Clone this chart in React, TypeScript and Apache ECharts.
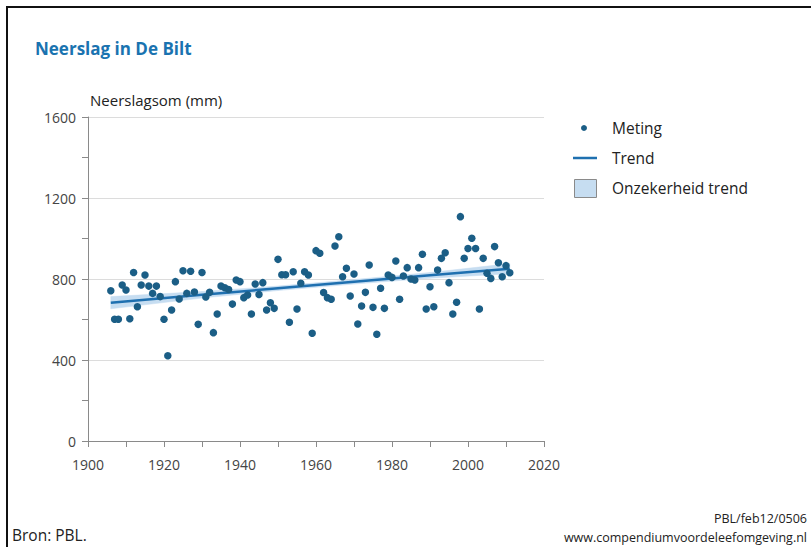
import React, { useEffect, useRef } from "react";
import * as echarts from "echarts";

const years: number[] = [];
for (let y = 1906; y <= 2011; y++) years.push(y);

const rainfall = [
  742, 601, 601, 770, 746, 604, 832, 663, 770, 820,
  765, 729, 765, 713, 601, 421, 647, 787, 701, 841,
  729, 838, 736, 576, 832, 711, 734, 535, 627, 765,
  757, 748, 676, 795, 787, 708, 721, 627, 775, 724,
  782, 647, 683, 655, 897, 821, 821, 586, 836, 652,
  779, 836, 820, 532, 940, 927, 733, 708, 700, 963,
  1009, 811, 853, 716, 825, 578, 667, 734, 869, 660,
  527, 754, 655, 820, 808, 889, 700, 815, 856, 800,
  795, 856, 922, 652, 762, 663, 844, 902, 930, 782,
  627, 685, 1108, 902, 951, 1001, 951, 652, 902, 828,
  803, 960, 880, 811, 866, 831,
];

const trendYears = [1906, 1930, 1950, 1970, 1990, 2011];
const trendValues = [683, 722, 754, 786, 818, 851];
const bandLower = [653, 706, 743, 775, 804, 826];
const bandUpper = [713, 738, 765, 797, 832, 876];

const xTicks = { min: 1900, max: 2020, step: 20 };
const yTicks = { min: 0, max: 1600, step: 400 };

const DOT = "#1b5e86";
const LINE = "#1f70b0";
const BAND = "#c6ddf1";
const FONT = "Open Sans";

export default function App() {
  const ref = useRef<HTMLDivElement>(null);
  useEffect(() => {
    if (!ref.current) return;
    const chart = echarts.init(ref.current, null, { renderer: "svg" });
    const axisLabel = {
      color: "#444",
      fontFamily: FONT,
      fontSize: 14,
      formatter: (v: number) => String(v),
    };
    chart.setOption({
      animation: false,
      backgroundColor: "#fff",
      grid: { left: 88, right: 267, top: 117, bottom: 106, containLabel: false },
      xAxis: {
        type: "value",
        min: xTicks.min,
        max: xTicks.max,
        interval: xTicks.step,
        axisLine: { show: true, lineStyle: { color: "#8a8a8a", width: 1 } },
        axisTick: { show: true, length: 6, lineStyle: { color: "#8a8a8a" } },
        minorTick: { show: true, splitNumber: 2, length: 6, lineStyle: { color: "#8a8a8a" } },
        axisLabel: { ...axisLabel, margin: 16 },
        splitLine: { show: false },
      },
      yAxis: {
        type: "value",
        min: yTicks.min,
        max: yTicks.max,
        interval: yTicks.step,
        axisLine: { show: true, lineStyle: { color: "#8a8a8a", width: 1 } },
        axisTick: { show: true, length: 6, lineStyle: { color: "#8a8a8a" } },
        minorTick: { show: true, splitNumber: 2, length: 6, lineStyle: { color: "#8a8a8a" } },
        axisLabel: { ...axisLabel, margin: 12 },
        splitLine: { show: true, lineStyle: { color: "#dcdcdc", width: 1 } },
      },
      series: [
        {
          type: "custom",
          data: trendYears.map((y, i) => [y, bandLower[i], bandUpper[i]]),
          silent: true,
          z: 1,
          renderItem: (params: any, api: any) => {
            const i = params.dataIndex;
            if (i >= trendYears.length - 1) return null;
            const a1 = api.coord([trendYears[i], bandLower[i]]);
            const a2 = api.coord([trendYears[i], bandUpper[i]]);
            const b1 = api.coord([trendYears[i + 1], bandLower[i + 1]]);
            const b2 = api.coord([trendYears[i + 1], bandUpper[i + 1]]);
            return {
              type: "polygon",
              shape: { points: [a1, a2, b2, b1] },
              style: { fill: BAND, stroke: BAND, lineWidth: 0.5 },
            };
          },
        },
        {
          name: "Trend",
          type: "line",
          data: trendYears.map((y, i) => [y, trendValues[i]]),
          symbol: "none",
          lineStyle: { color: LINE, width: 2.5 },
          z: 2,
        },
        {
          name: "Meting",
          type: "scatter",
          data: years.map((y, i) => [y, rainfall[i]]),
          symbolSize: 7.5,
          itemStyle: { color: DOT, opacity: 1 },
          z: 3,
        },
      ],
      graphic: [
        {
          type: "rect",
          shape: { x: 7, y: 7, width: 900, height: 700 },
          style: { fill: "none", stroke: "#111", lineWidth: 2 },
          silent: true,
        },
        {
          type: "text",
          x: 35,
          y: 48,
          style: {
            text: "Neerslag in De Bilt",
            fill: "#1a73b0",
            font: `bold 17px "${FONT}"`,
            textVerticalAlign: "middle",
          },
        },
        {
          type: "text",
          x: 90,
          y: 100,
          style: {
            text: "Neerslagsom (mm)",
            fill: "#222",
            font: `15px "${FONT}"`,
            textVerticalAlign: "middle",
          },
        },
        { type: "circle", shape: { cx: 584, cy: 128, r: 3 }, style: { fill: DOT } },
        { type: "line", shape: { x1: 573, y1: 158, x2: 597, y2: 158 }, style: { stroke: LINE, lineWidth: 2.5 } },
        {
          type: "rect",
          shape: { x: 574.5, y: 179.5, width: 22, height: 18 },
          style: { fill: BAND, stroke: "#8a8a8a", lineWidth: 1 },
        },
        {
          type: "text",
          x: 612,
          y: 128,
          style: { text: "Meting", fill: "#222", font: `15.5px "${FONT}"`, textVerticalAlign: "middle" },
        },
        {
          type: "text",
          x: 612,
          y: 158,
          style: { text: "Trend", fill: "#222", font: `15.5px "${FONT}"`, textVerticalAlign: "middle" },
        },
        {
          type: "text",
          x: 612,
          y: 188,
          style: { text: "Onzekerheid trend", fill: "#222", font: `15.5px "${FONT}"`, textVerticalAlign: "middle" },
        },
        {
          type: "text",
          x: 12,
          y: 535,
          style: { text: "Bron: PBL.", fill: "#222", font: `15.5px "${FONT}"`, textVerticalAlign: "middle" },
        },
        {
          type: "text",
          x: 807,
          y: 518,
          style: {
            text: "PBL/feb12/0506",
            fill: "#222",
            font: `12.5px "${FONT}"`,
            textAlign: "right",
            textVerticalAlign: "middle",
          },
        },
        {
          type: "text",
          x: 807,
          y: 537,
          style: {
            text: "www.compendiumvoordeleefomgeving.nl",
            fill: "#222",
            font: `12.5px "${FONT}"`,
            textAlign: "right",
            textVerticalAlign: "middle",
          },
        },
      ],
    });
    return () => chart.dispose();
  }, []);
  return (
    <div
      ref={ref}
      style={{ position: "fixed", left: 0, top: 0, width: 811, height: 547, background: "#fff" }}
    />
  );
}
